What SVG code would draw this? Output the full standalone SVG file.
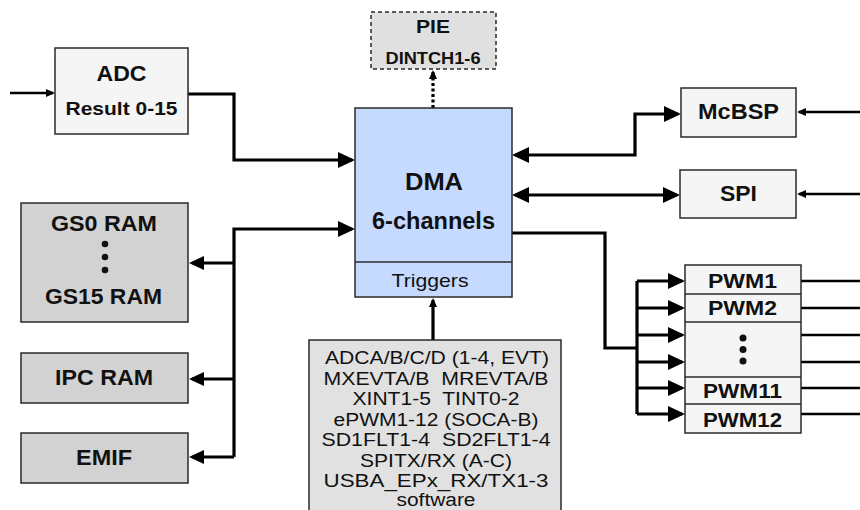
<svg xmlns="http://www.w3.org/2000/svg" width="860" height="510" viewBox="0 0 860 510">
<style>
text{font-family:"Liberation Sans",Arial,sans-serif;fill:#111;text-anchor:middle}
.b{font-weight:bold}
.box{stroke:#2a2a2a;stroke-width:1.5}
.light{fill:#f5f5f5}
.gray{fill:#d2d2d2}
.dma{fill:#c6d9fe}
.pie{fill:#e0e0e0;stroke-dasharray:4 3}
.trig{fill:#e1e1e1}
.tr{font-size:18px;white-space:pre}
.c{fill:none;stroke:#000;stroke-width:3.2}
.t{fill:none;stroke:#000;stroke-width:2.3}
.dot{fill:none;stroke:#000;stroke-width:3.2;stroke-dasharray:3 2.5}
</style>
<defs>
<marker id="ab" markerUnits="userSpaceOnUse" markerWidth="18" markerHeight="18" refX="14" refY="8" orient="auto-start-reverse"><path d="M0,0 L17,8 L0,16 Z" fill="#000"/></marker>
<marker id="am" markerUnits="userSpaceOnUse" markerWidth="16" markerHeight="15" refX="12" refY="7" orient="auto-start-reverse"><path d="M0,0 L15,7 L0,14 Z" fill="#000"/></marker>
<marker id="as" markerUnits="userSpaceOnUse" markerWidth="10" markerHeight="9" refX="7" refY="4" orient="auto-start-reverse"><path d="M0,0 L9,4 L0,8 Z" fill="#000"/></marker>
</defs>

<g id="connectors">
<path class="t" d="M10,93 H53" marker-end="url(#as)"/>
<path class="c" d="M188,94 H234 V160 H352" marker-end="url(#ab)"/>
<path class="c" d="M234,457 V229 H352" marker-end="url(#ab)"/>
<path class="c" d="M234,263 H192" marker-end="url(#am)"/>
<path class="c" d="M234,379 H192" marker-end="url(#am)"/>
<path class="c" d="M234,457 H192" marker-end="url(#am)"/>
<path class="dot" d="M433,108 V72" marker-end="url(#as)"/>
<path class="c" d="M433,340 V300" marker-end="url(#as)"/>
<path class="c" d="M515,155 H635 V114 H678" marker-start="url(#ab)" marker-end="url(#ab)"/>
<path class="c" d="M515,195 H677" marker-start="url(#ab)" marker-end="url(#ab)"/>
<path class="t" d="M860,112 H799" marker-end="url(#as)"/>
<path class="t" d="M860,194 H799" marker-end="url(#as)"/>
<path class="c" d="M512,233 H605 V348 H637"/>
<path class="c" d="M637,281 V414"/>
<path class="c" d="M637,281 H682" marker-end="url(#ab)"/>
<path class="c" d="M637,308 H682" marker-end="url(#ab)"/>
<path class="c" d="M637,335 H682" marker-end="url(#ab)"/>
<path class="c" d="M637,362 H682" marker-end="url(#ab)"/>
<path class="c" d="M637,388 H682" marker-end="url(#ab)"/>
<path class="c" d="M637,414 H682" marker-end="url(#ab)"/>
<path class="t" d="M801,281 H860 M801,308 H860 M801,335 H860 M801,362 H860 M801,388 H860 M801,414 H860"/>
</g>

<g id="adc">
<rect class="box light" x="55" y="48" width="133" height="86"/>
<text class="b" x="121.5" y="81" font-size="22" textLength="50" lengthAdjust="spacingAndGlyphs">ADC</text>
<text class="b" x="121.5" y="115" font-size="19" textLength="112" lengthAdjust="spacingAndGlyphs">Result 0-15</text>
</g>

<g id="pie">
<rect class="box pie" x="371" y="12" width="125" height="57"/>
<text class="b" x="433" y="33" font-size="18" textLength="34" lengthAdjust="spacingAndGlyphs">PIE</text>
<text class="b" x="433" y="64" font-size="16" textLength="95" lengthAdjust="spacingAndGlyphs">DINTCH1-6</text>
</g>

<g id="dma">
<rect class="box dma" x="355" y="108" width="157" height="189"/>
<line class="box" x1="355" y1="262" x2="512" y2="262"/>
<text class="b" x="434" y="190" font-size="24" textLength="58" lengthAdjust="spacingAndGlyphs">DMA</text>
<text class="b" x="433.5" y="229" font-size="23" textLength="123" lengthAdjust="spacingAndGlyphs">6-channels</text>
<text x="430" y="287" font-size="19" textLength="77" lengthAdjust="spacingAndGlyphs">Triggers</text>
</g>

<g id="mcbsp">
<rect class="box light" x="681" y="88" width="115" height="49"/>
<text class="b" x="738.5" y="119" font-size="22" textLength="81" lengthAdjust="spacingAndGlyphs">McBSP</text>
</g>

<g id="spi">
<rect class="box light" x="680" y="170" width="116" height="48"/>
<text class="b" x="738.5" y="201" font-size="22" textLength="37" lengthAdjust="spacingAndGlyphs">SPI</text>
</g>

<g id="gsram">
<rect class="box gray" x="21" y="203" width="167" height="119"/>
<text class="b" x="104" y="231" font-size="22" textLength="106" lengthAdjust="spacingAndGlyphs">GS0 RAM</text>
<circle cx="105" cy="244" r="3.3" fill="#111"/>
<circle cx="105" cy="257" r="3.3" fill="#111"/>
<circle cx="105" cy="270" r="3.3" fill="#111"/>
<text class="b" x="103.5" y="304" font-size="22" textLength="117" lengthAdjust="spacingAndGlyphs">GS15 RAM</text>
</g>

<g id="ipcram">
<rect class="box gray" x="21" y="353" width="167" height="50"/>
<text class="b" x="104" y="385" font-size="22" textLength="98" lengthAdjust="spacingAndGlyphs">IPC RAM</text>
</g>

<g id="emif">
<rect class="box gray" x="21" y="433" width="167" height="50"/>
<text class="b" x="104" y="465" font-size="22" textLength="56" lengthAdjust="spacingAndGlyphs">EMIF</text>
</g>

<g id="pwm">
<rect class="box light" x="685" y="265" width="116" height="168"/>
<line class="box" x1="685" y1="294" x2="801" y2="294"/>
<line class="box" x1="685" y1="322" x2="801" y2="322"/>
<line class="box" x1="685" y1="377" x2="801" y2="377"/>
<line class="box" x1="685" y1="404" x2="801" y2="404"/>
<text class="b" x="742.5" y="288" font-size="20" textLength="69" lengthAdjust="spacingAndGlyphs">PWM1</text>
<text class="b" x="742.5" y="315" font-size="20" textLength="69" lengthAdjust="spacingAndGlyphs">PWM2</text>
<circle cx="743" cy="338" r="3.5" fill="#111"/>
<circle cx="743" cy="349.5" r="3.5" fill="#111"/>
<circle cx="743" cy="361" r="3.5" fill="#111"/>
<text class="b" x="742.5" y="398" font-size="20" textLength="79" lengthAdjust="spacingAndGlyphs">PWM11</text>
<text class="b" x="742.5" y="427" font-size="20" textLength="79" lengthAdjust="spacingAndGlyphs">PWM12</text>
</g>

<g id="trigger-sources">
<rect class="box trig" x="309" y="340" width="252" height="180"/>
<text class="tr" x="437" y="364" textLength="224" lengthAdjust="spacingAndGlyphs">ADCA/B/C/D (1-4, EVT)</text>
<text class="tr" x="436" y="384.5" textLength="225" lengthAdjust="spacingAndGlyphs">MXEVTA/B&#160; MREVTA/B</text>
<text class="tr" x="436" y="405" textLength="167" lengthAdjust="spacingAndGlyphs">XINT1-5&#160; TINT0-2</text>
<text class="tr" x="436" y="425.5" textLength="205" lengthAdjust="spacingAndGlyphs">ePWM1-12 (SOCA-B)</text>
<text class="tr" x="436" y="446" textLength="229" lengthAdjust="spacingAndGlyphs">SD1FLT1-4&#160; SD2FLT1-4</text>
<text class="tr" x="436" y="466.5" textLength="152" lengthAdjust="spacingAndGlyphs">SPITX/RX (A-C)</text>
<text class="tr" x="436" y="487" textLength="225" lengthAdjust="spacingAndGlyphs">USBA_EPx_RX/TX1-3</text>
<text class="tr" x="436" y="506" textLength="79" lengthAdjust="spacingAndGlyphs">software</text>
</g>
</svg>
